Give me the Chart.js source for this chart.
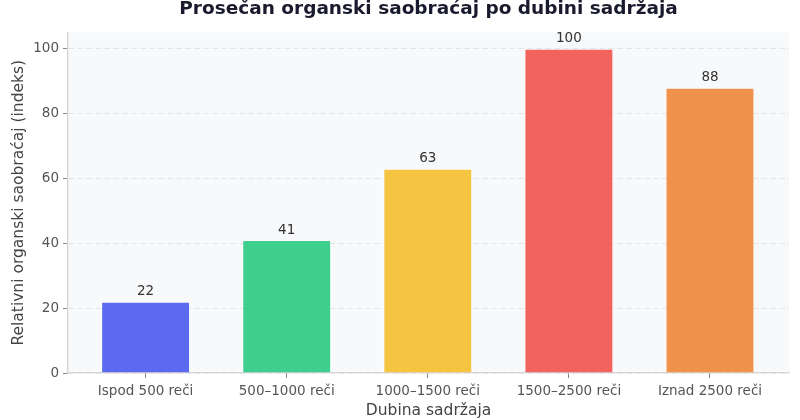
<!DOCTYPE html>
<html>
<head>
<meta charset="utf-8">
<script src="https://cdn.jsdelivr.net/npm/chart.js@4"></script>
<style>
  html, body { margin: 0; padding: 0; background: #ffffff; }
  #wrap { width: 800px; height: 420px; }
</style>
</head>
<body>
<div id="wrap"><canvas id="c" width="800" height="420"></canvas></div>
<script>
const categories = ["Ispod 500 reči", "500–1000 reči", "1000–1500 reči", "1500–2500 reči", "Iznad 2500 reči"];
const values = [22, 41, 63, 100, 88];
const barColors = ["#5b6af0", "#3ecf8e", "#f5c542", "#f0645d", "#f0924c"];
const yTicks = [0, 20, 40, 60, 80, 100];
const titleText = "Prosečan organski saobraćaj po dubini sadržaja";
const xTitle = "Dubina sadržaja";
const yTitle = "Relativni organski saobraćaj (indeks)";

const FONT = "'DejaVu Sans', sans-serif";

const plotBg = {
  id: 'plotBg',
  beforeDraw(chart) {
    const {ctx, chartArea: a} = chart;
    ctx.save();
    ctx.fillStyle = '#f8f9fb';
    ctx.fillRect(a.left, a.top, a.right - a.left, a.bottom - a.top);
    ctx.restore();
  }
};

const valueLabels = {
  id: 'valueLabels',
  afterDatasetsDraw(chart) {
    const {ctx} = chart;
    const meta = chart.getDatasetMeta(0);
    ctx.save();
    ctx.font = `13.5px ${FONT}`;
    ctx.fillStyle = '#333333';
    ctx.textAlign = 'center';
    ctx.textBaseline = 'bottom';
    meta.data.forEach((bar, i) => {
      ctx.fillText(String(values[i]), bar.x, bar.y - 3);
    });
    ctx.restore();
  }
};

new Chart(document.getElementById('c'), {
  type: 'bar',
  data: {
    datasets: [{
      data: values.map((v, i) => ({x: i, y: v})),
      backgroundColor: barColors,
      borderColor: 'rgba(255,255,255,0.35)',
      borderWidth: 1,
      barPercentage: 0.63,
      categoryPercentage: 1.0
    }]
  },
  options: {
    responsive: false,
    animation: false,
    devicePixelRatio: 1,
    layout: { padding: { left: 0, right: 11, top: 0, bottom: 0 } },
    plugins: {
      legend: { display: false },
      tooltip: { enabled: false },
      title: {
        display: true,
        text: titleText,
        fullSize: false,
        color: '#1a1a2e',
        font: { family: FONT, size: 18.5, weight: 'bold', lineHeight: 1.0 },
        padding: { top: 0, bottom: 14 }
      }
    },
    scales: {
      x: {
        type: 'linear',
        offset: false,
        min: -0.55,
        max: 4.56,
        afterBuildTicks(scale) { scale.ticks = categories.map((c, i) => ({value: i})); },
        afterFit(scale) { scale.height = 47; },
        ticks: {
          callback: (v) => categories[v] ?? '',
          color: '#555555',
          font: { family: FONT, size: 13.5 },
          padding: 5,
          maxRotation: 0,
          autoSkip: false
        },
        grid: {
          display: true,
          offset: false,
          drawOnChartArea: false,
          drawTicks: true,
          tickLength: 5,
          tickColor: '#888888',
          tickWidth: 1
        },
        border: { display: true, color: '#d5d5d5', width: 1.3 },
        title: {
          display: true,
          text: xTitle,
          color: '#444444',
          font: { family: FONT, size: 15.5 },
          padding: { top: 0, bottom: 0 }
        }
      },
      y: {
        min: 0,
        max: 105,
        afterBuildTicks(scale) { scale.ticks = yTicks.map(v => ({value: v})); },
        afterFit(scale) { scale.width = 68; },
        ticks: {
          color: '#555555',
          font: { family: FONT, size: 13.5 },
          padding: 4
        },
        grid: {
          color: 'rgba(0,0,0,0.08)',
          lineWidth: 1,
          drawTicks: true,
          tickLength: 5,
          tickColor: '#888888',
          tickBorderDash: [],
          tickWidth: 1
        },
        border: { display: true, color: '#d5d5d5', width: 1.3, dash: [6, 3] },
        title: {
          display: true,
          text: yTitle,
          color: '#444444',
          font: { family: FONT, size: 15.5 },
          padding: { top: 10, bottom: 0 }
        }
      }
    }
  },
  plugins: [plotBg, valueLabels]
});
</script>
</body>
</html>
